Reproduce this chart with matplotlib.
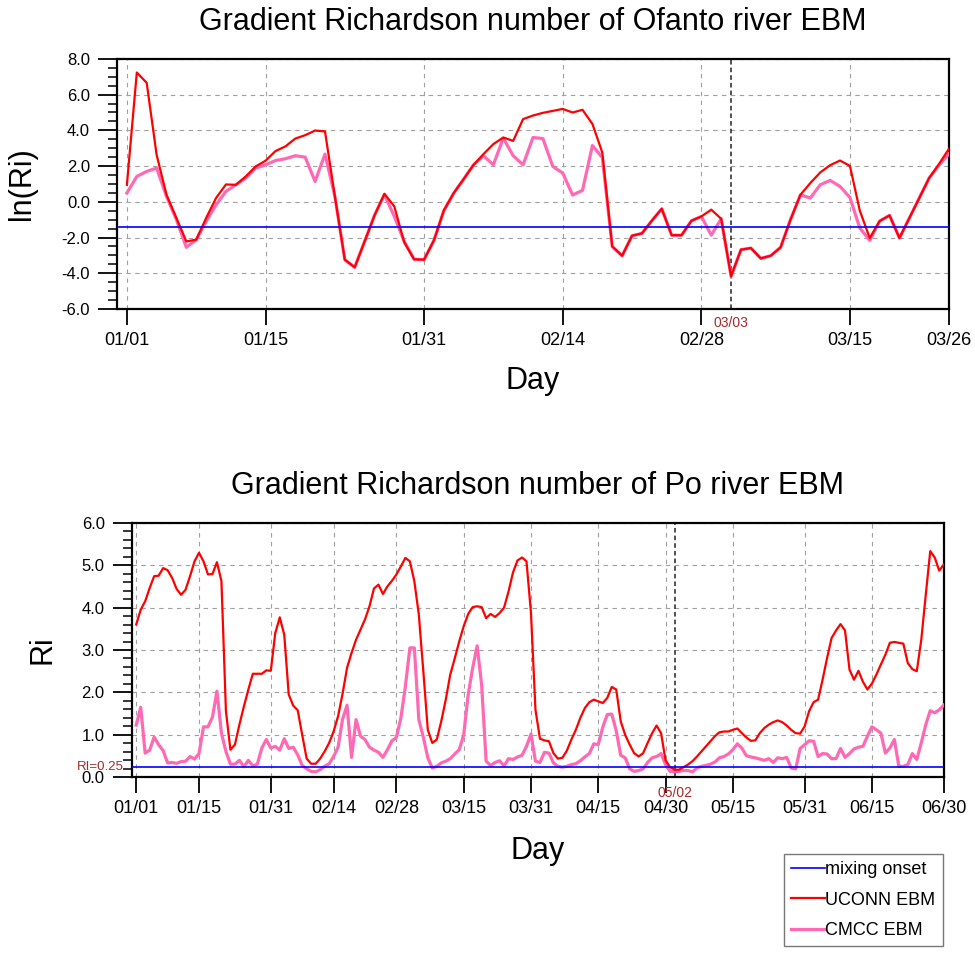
import numpy as np
import matplotlib
matplotlib.use('Agg')
import matplotlib.pyplot as plt
from matplotlib.ticker import MultipleLocator, FormatStrFormatter

plt.rcParams['font.family'] = ['Liberation Sans', 'DejaVu Sans']
plt.rcParams['axes.unicode_minus'] = False

# Ofanto river, ln(Ri), daily from 01/01
uconn_ofanto = [0.95, 7.24, 6.66, 2.63, 0.39, -0.91, -2.22, -2.12, -0.91, 0.21,
                0.97, 0.95, 1.42, 1.98, 2.30, 2.84, 3.10, 3.54, 3.73, 3.99,
                3.94, 0.30, -3.24, -3.67, -2.22, -0.76, 0.45, -0.26, -2.27, -3.22,
                -3.24, -2.16, -0.48, 0.49, 1.27, 2.07, 2.67, 3.23, 3.60, 3.41,
                4.63, 4.83, 4.98, 5.09, 5.20, 5.00, 5.15, 4.36, 2.76, -2.50,
                -3.02, -1.90, -1.77, -1.06, -0.39, -1.87, -1.87, -1.06, -0.82, -0.44,
                -0.95, -4.17, -2.68, -2.59, -3.17, -3.02, -2.55, -1.00, 0.39, 1.05,
                1.64, 2.05, 2.31, 2.01, -0.50, -2.03, -1.08, -0.76, -2.03, -0.91,
                0.21, 1.33, 2.12, 2.97]
cmcc_ofanto = [0.49, 1.42, 1.70, 1.89, 0.30, -1.00, -2.55, -2.12, -1.10, -0.17,
               0.58, 0.95, 1.33, 1.89, 2.07, 2.31, 2.41, 2.58, 2.50, 1.14,
               2.67, 0.30, -3.24, -3.67, -2.22, -0.76, 0.40, -0.82, -2.22, -3.22,
               -3.24, -2.16, -0.50, 0.49, 1.27, 2.07, 2.58, 2.07, 3.56, 2.58,
               2.07, 3.60, 3.54, 1.98, 1.61, 0.38, 0.64, 3.15, 2.48, -2.50,
               -3.02, -1.90, -1.77, -1.06, -0.39, -1.87, -1.87, -1.06, -0.82, -1.87,
               -0.95, -4.17, -2.68, -2.59, -3.17, -3.02, -2.55, -1.00, 0.39, 0.21,
               0.95, 1.20, 0.86, 0.24, -1.47, -2.16, -1.08, -0.76, -2.03, -0.91,
               0.21, 1.33, 2.05, 2.69]
ofanto_ticks = [0, 14, 30, 44, 58, 73, 83]
ofanto_labels = ['01/01', '01/15', '01/31', '02/14', '02/28', '03/15', '03/26']
ofanto_onset = 61
ofanto_onset_label = '03/03'

# Po river, Ri, daily from 01/01
uconn_po = [3.60, 3.95, 4.15, 4.46, 4.74, 4.75, 4.93, 4.88, 4.70, 4.44,
            4.30, 4.42, 4.74, 5.09, 5.29, 5.09, 4.78, 4.79, 5.07, 4.62,
            1.56, 0.65, 0.77, 1.24, 1.67, 2.07, 2.44, 2.44, 2.44, 2.52,
            2.51, 3.40, 3.77, 3.36, 1.95, 1.69, 1.58, 1.00, 0.44, 0.32,
            0.32, 0.44, 0.61, 0.81, 1.08, 1.44, 1.97, 2.58, 2.93, 3.24,
            3.48, 3.72, 4.03, 4.45, 4.54, 4.32, 4.50, 4.63, 4.78, 4.97,
            5.17, 5.09, 4.62, 3.83, 2.50, 1.12, 0.81, 0.89, 1.32, 1.83,
            2.42, 2.80, 3.20, 3.56, 3.85, 4.01, 4.03, 4.01, 3.75, 3.85,
            3.78, 3.87, 4.00, 4.38, 4.83, 5.11, 5.18, 5.09, 3.87, 1.59,
            0.91, 0.87, 0.85, 0.57, 0.44, 0.46, 0.63, 0.89, 1.12, 1.40,
            1.63, 1.77, 1.83, 1.79, 1.75, 1.87, 2.13, 2.07, 1.32, 1.00,
            0.77, 0.57, 0.49, 0.57, 0.81, 1.04, 1.22, 1.04, 0.40, 0.24,
            0.18, 0.18, 0.24, 0.30, 0.38, 0.49, 0.61, 0.73, 0.85, 0.97,
            1.06, 1.08, 1.08, 1.12, 1.15, 1.04, 0.94, 0.86, 0.87, 1.04,
            1.16, 1.24, 1.30, 1.34, 1.30, 1.22, 1.12, 1.04, 1.03, 1.20,
            1.56, 1.77, 1.83, 2.30, 2.81, 3.28, 3.46, 3.61, 3.46, 2.54,
            2.30, 2.51, 2.25, 2.07, 2.21, 2.42, 2.66, 2.89, 3.17, 3.19,
            3.17, 3.15, 2.69, 2.55, 2.50, 3.24, 4.30, 5.33, 5.18, 4.87,
            5.01]
cmcc_po = [1.23, 1.65, 0.57, 0.64, 0.95, 0.77, 0.63, 0.34, 0.35, 0.33,
           0.37, 0.38, 0.49, 0.43, 0.56, 1.19, 1.19, 1.42, 2.03, 1.04,
           0.61, 0.31, 0.31, 0.40, 0.25, 0.40, 0.27, 0.31, 0.69, 0.89,
           0.69, 0.73, 0.64, 0.91, 0.68, 0.71, 0.53, 0.28, 0.20, 0.14,
           0.13, 0.18, 0.26, 0.32, 0.49, 0.71, 1.37, 1.70, 0.47, 1.36,
           0.97, 0.89, 0.71, 0.64, 0.59, 0.47, 0.65, 0.86, 0.94, 1.40,
           2.14, 3.05, 3.05, 1.36, 0.95, 0.46, 0.22, 0.26, 0.34, 0.38,
           0.44, 0.55, 0.65, 1.00, 1.95, 2.58, 3.10, 2.18, 0.38, 0.28,
           0.35, 0.39, 0.27, 0.44, 0.42, 0.48, 0.52, 0.73, 1.02, 0.38,
           0.35, 0.59, 0.57, 0.34, 0.26, 0.24, 0.26, 0.30, 0.32, 0.39,
           0.48, 0.56, 0.79, 0.77, 1.18, 1.48, 1.49, 1.10, 0.52, 0.46,
           0.20, 0.14, 0.16, 0.20, 0.35, 0.46, 0.49, 0.56, 0.30, 0.14,
           0.13, 0.14, 0.16, 0.16, 0.13, 0.22, 0.26, 0.28, 0.31, 0.36,
           0.46, 0.49, 0.55, 0.65, 0.79, 0.69, 0.51, 0.48, 0.46, 0.43,
           0.40, 0.44, 0.35, 0.46, 0.44, 0.47, 0.22, 0.20, 0.68, 0.77,
           0.86, 0.85, 0.49, 0.56, 0.55, 0.44, 0.44, 0.68, 0.47, 0.56,
           0.67, 0.71, 0.73, 0.97, 1.19, 1.12, 1.04, 0.57, 0.69, 0.89,
           0.26, 0.26, 0.30, 0.56, 0.42, 0.81, 1.24, 1.57, 1.52, 1.59,
           1.70]
po_ticks = [0, 14, 30, 44, 58, 73, 88, 103, 118, 133, 149, 164, 180]
po_labels = ['01/01', '01/15', '01/31', '02/14', '02/28', '03/15', '03/31',
             '04/15', '04/30', '05/15', '05/31', '06/15', '06/30']
po_onset = 120
po_onset_label = '05/02'

ri_crit = 0.25

red = '#ff0000'
pink = '#ff69b4'
blue = '#0000ff'
brown = '#a52a2a'

fig = plt.figure(figsize=(9.75, 9.58), dpi=100)
ax1 = fig.add_axes([0.120, 0.6775, 0.8533, 0.261])
ax2 = fig.add_axes([0.1351, 0.1886, 0.8328, 0.2658])


def style_axes(ax, xticks, xlabels, minor):
    ax.set_xticks(xticks)
    ax.set_xticklabels(xlabels, fontsize=13)
    ax.yaxis.set_minor_locator(MultipleLocator(minor))
    ax.yaxis.set_major_formatter(FormatStrFormatter('%.1f'))
    ax.tick_params(axis='y', which='major', direction='out', length=13.5,
                   width=1.3, pad=6, labelsize=12)
    ax.tick_params(axis='y', which='minor', direction='out', length=6.5, width=1.1)
    ax.tick_params(axis='x', which='major', direction='out', length=11.5,
                   width=1.3, pad=5)
    ax.tick_params(top=False, right=False)
    ax.grid(True, which='major', color='#a0a0a0', linewidth=0.8,
            linestyle=(0, (4, 4)))
    for s in ax.spines.values():
        s.set_linewidth(1.6)
    ax.set_axisbelow(True)


# Ofanto
days_o = np.arange(len(uconn_ofanto))
ax1.plot(days_o, cmcc_ofanto, color=pink, lw=2.3, zorder=3)
ax1.plot(days_o, uconn_ofanto, color=red, lw=1.6, zorder=4)
ax1.axhline(np.log(ri_crit), color=blue, lw=1.2, zorder=5)
ax1.axvline(ofanto_onset, color='#222222', lw=1.1, linestyle=(0, (3, 2)), zorder=2)
ax1.set_xlim(-1, 83)
ax1.set_ylim(-6, 8)
ax1.set_yticks(np.arange(-6, 8.1, 2))
style_axes(ax1, ofanto_ticks, ofanto_labels, 0.5)
ax1.text(ofanto_onset, -0.056, ofanto_onset_label, transform=ax1.get_xaxis_transform(),
         ha='center', va='center', fontsize=10, color=brown)
ax1.set_title('Gradient Richardson number of Ofanto river EBM', fontsize=22, pad=21)
ax1.set_ylabel('ln(Ri)', fontsize=22, va='center')
ax1.yaxis.set_label_coords(-0.114, 0.5)
ax1.set_xlabel('Day', fontsize=22, va='center')
ax1.xaxis.set_label_coords(0.5, -0.288)

# Po
days_p = np.arange(len(uconn_po))
l3, = ax2.plot(days_p, cmcc_po, color=pink, lw=2.3, zorder=3)
l2, = ax2.plot(days_p, uconn_po, color=red, lw=1.6, zorder=4)
l1 = ax2.axhline(ri_crit, color=blue, lw=1.2, zorder=5)
ax2.axvline(po_onset, color='#222222', lw=1.1, linestyle=(0, (3, 2)), zorder=2)
ax2.set_xlim(-1, 180)
ax2.set_ylim(0, 6)
ax2.set_yticks(np.arange(0, 6.1, 1))
style_axes(ax2, po_ticks, po_labels, 0.2)
ax2.text(po_onset, -0.06, po_onset_label, transform=ax2.get_xaxis_transform(),
         ha='center', va='center', fontsize=10, color=brown)
ax2.text(-0.010, ri_crit, 'RI=0.25', transform=ax2.get_yaxis_transform(),
         ha='right', va='center', fontsize=9.5, color=brown)
ax2.set_title('Gradient Richardson number of Po river EBM', fontsize=22, pad=21)
ax2.set_ylabel('Ri', fontsize=22, va='center')
ax2.yaxis.set_label_coords(-0.110, 0.5)
ax2.set_xlabel('Day', fontsize=22, va='center')
ax2.xaxis.set_label_coords(0.5, -0.291)

leg = fig.legend([l1, l2, l3], ['mixing onset', 'UCONN EBM', 'CMCC EBM'],
                 loc='upper left', bbox_to_anchor=(0.804, 0.1086),
                 fontsize=13, handlelength=1.9, handletextpad=0.0,
                 labelspacing=0.75, borderpad=0.4, borderaxespad=0,
                 fancybox=False, frameon=True)
leg.get_frame().set_edgecolor('#555555')
leg.get_frame().set_linewidth(1.0)

fig.savefig('out.png', dpi=100)
